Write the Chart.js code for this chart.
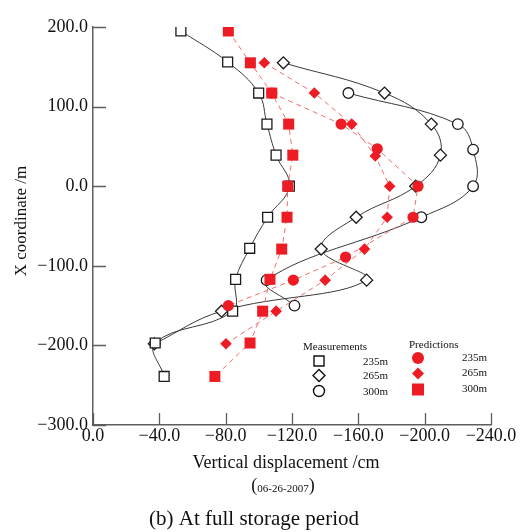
<!DOCTYPE html>
<html>
<head>
<meta charset="utf-8">
<title>Vertical displacement - full storage period</title>
<script src="https://cdn.jsdelivr.net/npm/chart.js@4.4.0/dist/chart.umd.min.js"></script>
<style>
	html, body { margin: 0; padding: 0; background: #fff; }
	#wrap { width: 524px; height: 532px; position: relative; }
</style>
</head>
<body>
<div id="wrap"><canvas id="chart" width="524" height="532"></canvas></div>
<script>

	// axis ticks
	var xTicks = [0, -40, -80, -120, -160, -200, -240];
	var yTicks = [200, 100, 0, -100, -200, -300];

	// measurements (x = vertical displacement /cm, y = X coordinate /m)
	var meas235X = [-53, -81.2, -99.9, -104.9, -110.4, -118.4, -105.3, -94.5, -86, -84.2, -37.5, -42.9];
	var meas235Y = [195, 156, 117, 78, 39, 0, -39, -78, -117, -157, -197, -239];

	var meas265X = [-114.8, -175.8, -204, -209.5, -194.6, -158.7, -137.6, -165, -77.5, -37];
	var meas265Y = [155, 117, 78, 39, 0, -39, -79, -118, -157, -198];

	var meas300X = [-154, -220, -229.2, -229.2, -198, -104.7, -121.5];
	var meas300Y = [117, 78, 46, 0, -39, -118, -150];

	// predictions
	var pred235X = [-107.8, -149.6, -171.4, -196, -193, -152.3, -120.8, -81.6];
	var pred235Y = [117, 78, 47, 0, -39, -89, -118, -150];

	var pred265X = [-103.3, -133.5, -156, -170.2, -178.9, -177.4, -163.7, -140, -110.4, -80.2];
	var pred265Y = [155, 117, 78, 38, 0, -39, -79, -118, -157, -198];

	var pred300X = [-81.6, -94.9, -107.8, -118, -120.5, -117.4, -117, -113.8, -106.7, -102.3, -94.7, -73.5];
	var pred300Y = [195, 155, 117, 78, 39, 0, -39, -79, -117, -157, -197, -239];

	var SERIF = "'Liberation Serif', 'Times New Roman', serif";
	var RED = '#ed1c24';
	var RED_LINE = '#f26d6d';
	var AXIS = '#5e5e5e';

	// pair up x / y arrays
	function toPoints(xs, ys) {
		return xs.map(function (x, i) { return { x: x, y: ys[i] }; });
	}

	// minus sign like the original labels
	function fmt(v) {
		var s = Math.abs(v).toFixed(1);
		return v < 0 ? '\u2212' + s : s;
	}

	function measSet(label, xs, ys, style, radius) {
		return {
			label: label,
			data: toPoints(xs, ys),
			showLine: true,
			tension: 0.4,
			borderColor: '#3a3a3a',
			borderWidth: 1,
			pointStyle: style,
			pointRadius: radius,
			pointBorderColor: '#1a1a1a',
			pointBackgroundColor: '#fff',
			pointBorderWidth: 1.3,
			order: 3
		};
	}

	function predSet(label, xs, ys, style, radius, order) {
		return {
			label: label,
			data: toPoints(xs, ys),
			showLine: true,
			tension: 0,
			borderColor: RED_LINE,
			borderWidth: 1,
			borderDash: [5, 4],
			pointStyle: style,
			pointRadius: radius,
			pointBorderColor: RED,
			pointBackgroundColor: RED,
			pointBorderWidth: 0,
			order: order
		};
	}

	// inward tick marks
	var inwardTicks = {
		id: 'inwardTicks',
		afterDatasetsDraw: function (chart) {
			var ctx = chart.ctx, area = chart.chartArea;
			var sx = chart.scales.x, sy = chart.scales.y;
			ctx.save();
			ctx.strokeStyle = AXIS;
			ctx.lineWidth = 1.3;
			ctx.beginPath();
			yTicks.forEach(function (v) {
				var py = Math.round(sy.getPixelForValue(v)) + 0.5;
				ctx.moveTo(area.left, py);
				ctx.lineTo(area.left + 13, py);
			});
			xTicks.forEach(function (v) {
				var px = Math.round(sx.getPixelForValue(v)) + 0.5;
				ctx.moveTo(px, area.bottom);
				ctx.lineTo(px, area.bottom - 12);
			});
			ctx.stroke();
			ctx.restore();
		}
	};

	// marker shapes for the legend
	function drawMarker(ctx, shape, x, y, r, filled) {
		ctx.beginPath();
		if (shape === 'rect') {
			ctx.rect(x - r, y - r, 2 * r, 2 * r);
		} else if (shape === 'rectRot') {
			ctx.moveTo(x - r, y);
			ctx.lineTo(x, y - r);
			ctx.lineTo(x + r, y);
			ctx.lineTo(x, y + r);
			ctx.closePath();
		} else {
			ctx.arc(x, y, r, 0, Math.PI * 2);
		}
		if (filled) {
			ctx.fillStyle = RED;
			ctx.fill();
		} else {
			ctx.fillStyle = '#fff';
			ctx.fill();
			ctx.strokeStyle = '#111';
			ctx.lineWidth = 1.4;
			ctx.stroke();
		}
	}

	// titles, caption and the two column legend
	var annotations = {
		id: 'annotations',
		afterDraw: function (chart) {
			var ctx = chart.ctx;
			ctx.save();
			ctx.fillStyle = '#111';
			ctx.textBaseline = 'middle';

			// y axis title
			ctx.save();
			ctx.translate(22, 221);
			ctx.rotate(-Math.PI / 2);
			ctx.textAlign = 'center';
			ctx.font = '17px ' + SERIF;
			ctx.fillText('X coordinate /m', 0, 0);
			ctx.restore();

			// x axis title
			ctx.textAlign = 'center';
			ctx.font = '18px ' + SERIF;
			ctx.fillText('Vertical displacement /cm', 286, 463);

			// date line: big brackets, small text
			ctx.textAlign = 'left';
			ctx.font = '18px ' + SERIF;
			var bw = ctx.measureText('(').width;
			ctx.font = '11px ' + SERIF;
			var dw = ctx.measureText('06-26-2007').width;
			var dx = 283 - (2 * bw + dw) / 2;
			ctx.font = '18px ' + SERIF;
			ctx.fillText('(', dx, 486);
			ctx.font = '11px ' + SERIF;
			ctx.fillText('06-26-2007', dx + bw, 489);
			ctx.font = '18px ' + SERIF;
			ctx.fillText(')', dx + bw + dw, 486);

			// caption
			ctx.textAlign = 'center';
			ctx.font = '21px ' + SERIF;
			ctx.fillText('(b) At full storage period', 254, 519);

			// legend
			ctx.textAlign = 'left';
			ctx.font = '11px ' + SERIF;
			ctx.fillStyle = '#111';
			ctx.fillText('Measurements', 303, 347);
			ctx.fillText('Predictions', 409, 345);
			var labels = ['235m', '265m', '300m'];
			var shapes = ['rect', 'rectRot', 'circle'];
			var predShapes = ['circle', 'rectRot', 'rect'];
			var measY = [361, 375.5, 391];
			var predY = [358, 373.5, 389.5];
			var measR = [5, 6, 5.5];
			var predR = [6, 6, 6];
			for (var i = 0; i < 3; i++) {
				drawMarker(ctx, shapes[i], 319, measY[i], measR[i], false);
				drawMarker(ctx, predShapes[i], 418, predY[i], predR[i], true);
				ctx.fillStyle = '#111';
				ctx.fillText(labels[i], 363, measY[i] + 1);
				ctx.fillText(labels[i], 462, predY[i]);
			}
			ctx.restore();
		}
	};

	new Chart(document.getElementById('chart'), {
		type: 'scatter',
		data: {
			datasets: [
				measSet('235m measured', meas235X, meas235Y, 'rect', 7),
				measSet('265m measured', meas265X, meas265Y, 'rectRot', 6),
				measSet('300m measured', meas300X, meas300Y, 'circle', 5.3),
				predSet('235m predicted', pred235X, pred235Y, 'circle', 5.6, 2),
				predSet('265m predicted', pred265X, pred265Y, 'rectRot', 5.8, 1),
				predSet('300m predicted', pred300X, pred300Y, 'rect', 7.8, 0)
			]
		},
		options: {
			responsive: false,
			animation: false,
			devicePixelRatio: 1,
			layout: { padding: { top: 27, right: 33, bottom: 0, left: 0 } },
			plugins: {
				legend: { display: false },
				tooltip: { enabled: false }
			},
			scales: {
				x: {
					type: 'linear',
					reverse: true,
					min: -240,
					max: 0,
					afterFit: function (scale) { scale.height = 107; },
					afterBuildTicks: function (scale) {
						scale.ticks = xTicks.map(function (v) { return { value: v }; });
					},
					grid: { display: false, drawTicks: false },
					border: { display: true, color: AXIS, width: 1.5 },
					ticks: {
						padding: 0,
						maxRotation: 0,
						color: '#111',
						font: { family: SERIF, size: 18 },
						callback: function (v) { return fmt(v); }
					}
				},
				y: {
					type: 'linear',
					min: -300,
					max: 200,
					afterFit: function (scale) { scale.width = 93; },
					afterBuildTicks: function (scale) {
						scale.ticks = yTicks.map(function (v) { return { value: v }; });
					},
					grid: { display: false, drawTicks: false },
					border: { display: true, color: AXIS, width: 1.5 },
					ticks: {
						padding: 5,
						color: '#111',
						font: { family: SERIF, size: 18 },
						callback: function (v) { return fmt(v); }
					}
				}
			}
		},
		plugins: [inwardTicks, annotations]
	});

</script>
</body>
</html>
